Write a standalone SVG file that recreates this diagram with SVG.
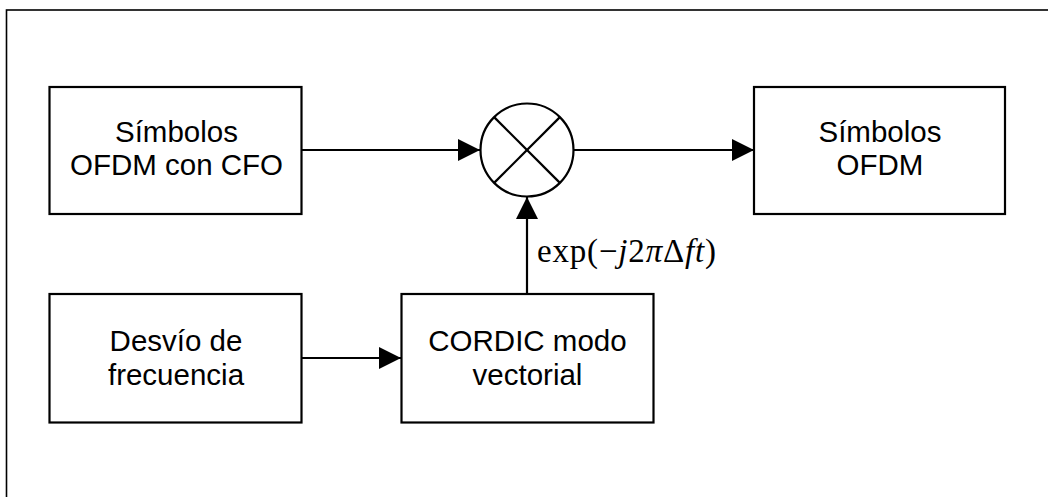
<svg xmlns="http://www.w3.org/2000/svg" width="1048" height="497" viewBox="0 0 1048 497">
<style>
.box{fill:#fff;stroke:#000;stroke-width:2.2}
.lbl{font-family:"Liberation Sans",Arial,sans-serif;font-size:29.5px;fill:#000;text-anchor:middle}
.conn{stroke:#000;stroke-width:2.2;fill:none}
.math{font-family:"Liberation Serif","Times New Roman",serif;font-size:33px;fill:#000}
</style>
<defs>
<marker id="arr" markerUnits="userSpaceOnUse" markerWidth="22" markerHeight="22" refX="22" refY="11" orient="auto">
<path d="M0,0 L22,11 L0,22 z" fill="#000"/>
</marker>
</defs>
<rect x="0" y="0" width="1048" height="497" fill="#fff"/>
<rect x="6.5" y="10" width="1100" height="600" fill="none" stroke="#000" stroke-width="1.6"/>
<g id="connectors">
<line class="conn" x1="302" y1="150" x2="480" y2="150" marker-end="url(#arr)"/>
<line class="conn" x1="574" y1="150" x2="754" y2="150" marker-end="url(#arr)"/>
<line class="conn" x1="527" y1="294" x2="527" y2="197" marker-end="url(#arr)"/>
<line class="conn" x1="302" y1="358" x2="401" y2="358" marker-end="url(#arr)"/>
<text class="math" x="537" y="262" textLength="179" lengthAdjust="spacing">exp(−<tspan font-style="italic">j</tspan>2<tspan font-style="italic">π</tspan>Δ<tspan font-style="italic">ft</tspan>)</text>
</g>
<g id="sym-cfo">
<rect class="box" x="49.5" y="87" width="252" height="127"/>
<text class="lbl" x="176.5" y="141.5">Símbolos</text>
<text class="lbl" x="176.5" y="175">OFDM con CFO</text>
</g>
<g id="mixer">
<circle cx="527" cy="150" r="46.5" fill="#fff" stroke="#000" stroke-width="2.2"/>
<line class="conn" x1="494.1" y1="117.1" x2="559.9" y2="182.9"/>
<line class="conn" x1="559.9" y1="117.1" x2="494.1" y2="182.9"/>
</g>
<g id="sym-ofdm">
<rect class="box" x="754" y="87" width="251" height="127"/>
<text class="lbl" x="880" y="141.5">Símbolos</text>
<text class="lbl" x="880" y="175">OFDM</text>
</g>
<g id="desvio">
<rect class="box" x="49.5" y="294" width="252" height="128.5"/>
<text class="lbl" x="176" y="350.5">Desvío de</text>
<text class="lbl" x="176" y="384.5">frecuencia</text>
</g>
<g id="cordic">
<rect class="box" x="401.5" y="294" width="252" height="128.5"/>
<text class="lbl" x="527.5" y="350.5">CORDIC modo</text>
<text class="lbl" x="527.5" y="384.5">vectorial</text>
</g>
</svg>
